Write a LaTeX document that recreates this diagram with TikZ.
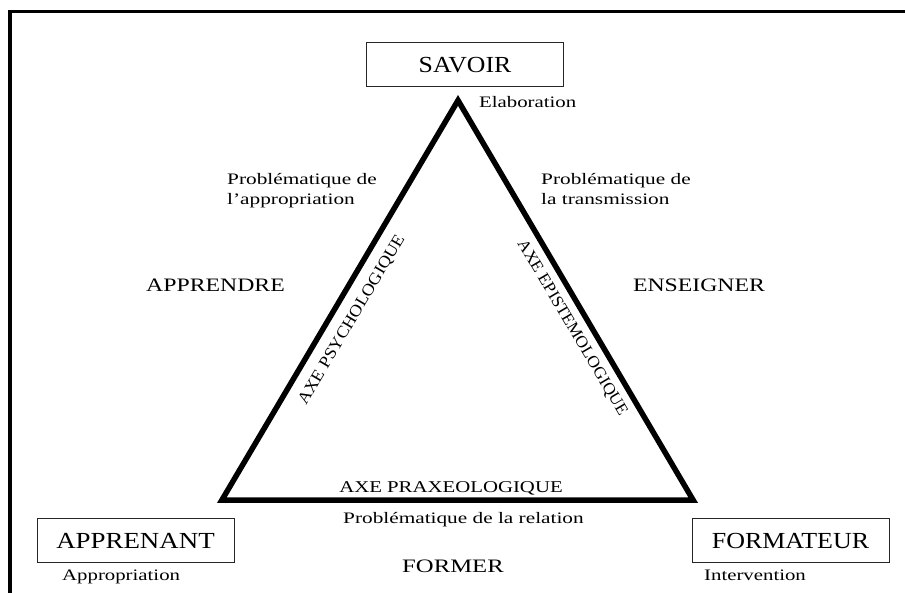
\documentclass[tikz,border=0pt]{standalone}
\usepackage{fontspec}
\setmainfont{Liberation Serif}
\usepackage{graphicx}
% horizontal stretch of a piece of text
\newcommand{\stretchx}[2]{\scalebox{#1}[1]{#2}}
\begin{document}
\begin{tikzpicture}[x=1pt,y=-1pt,
  pole/.style={draw=black!85, line width=0.9pt, minimum width=197pt,
    minimum height=44pt, inner sep=0pt, font=\fontsize{23}{27}\selectfont},
  lbl/.style={inner sep=0pt, font=\fontsize{16}{20}\selectfont},
  verb/.style={inner sep=0pt, font=\fontsize{19}{23}\selectfont},
  axe/.style={inner sep=0pt, font=\fontsize{16.5}{20}\selectfont},
  side/.style={line width=5.5pt, line join=miter}]
\useasboundingbox (0,0) rectangle (905,593);
\fill[white] (0,0) rectangle (905,593);

% frame, open on the right and at the bottom
\draw[line width=3.5pt, line join=miter] (10,593) -- (10,11.5) -- (905,11.5);

% the didactic triangle
\coordinate (top) at (458,100.4);
\coordinate (bl) at (221.8,500.2);
\coordinate (br) at (693.2,500.2);
\draw[side] (bl) -- (top) -- (br) -- cycle;

% the three poles
\node[pole] (savoir) at (465,64.7) {\stretchx{1.12}{SAVOIR}};
\node[pole] (apprenant) at (135.5,540.5) {\stretchx{1.17}{APPRENANT}};
\node[pole] (formateur) at (790.5,540.5) {\stretchx{1.13}{FORMATEUR}};

% labels around the poles
\node[lbl, anchor=base west] (elab) at (479,108) {\stretchx{1.3}{Elaboration}};
\node[lbl, anchor=base west] (appro) at (62,580) {\stretchx{1.3}{Appropriation}};
\node[lbl, anchor=base west] (interv) at (704,580) {\stretchx{1.3}{Intervention}};

% problematics
\node[lbl, anchor=base west] (pappr) at (227,185)
  {\stretchx{1.33}{\begin{tabular}[t]{@{}l@{}}Problématique de\\l’appropriation\end{tabular}}};
\node[lbl, anchor=base west] (ptrans) at (541,185)
  {\stretchx{1.33}{\begin{tabular}[t]{@{}l@{}}Problématique de\\la transmission\end{tabular}}};
\node[lbl, anchor=base west] (prel) at (343,523) {\stretchx{1.33}{Problématique de la relation}};

% processes
\node[verb, anchor=base] (apprendre) at (215.5,292) {\stretchx{1.25}{APPRENDRE}};
\node[verb, anchor=base] (enseigner) at (699,292) {\stretchx{1.25}{ENSEIGNER}};
\node[verb, anchor=base] (former) at (453,572) {\stretchx{1.3}{FORMER}};

% axes along the sides
\node[axe, rotate=59.4] (psy) at (352,320) {\stretchx{1.1}{AXE PSYCHOLOGIQUE}};
\node[axe, rotate=-59.4] (epi) at (572,328) {\stretchx{1.05}{AXE EPISTEMOLOGIQUE}};
\node[axe, anchor=base] (praxe) at (451,492) {\stretchx{1.26}{AXE PRAXEOLOGIQUE}};
\end{tikzpicture}
\end{document}
